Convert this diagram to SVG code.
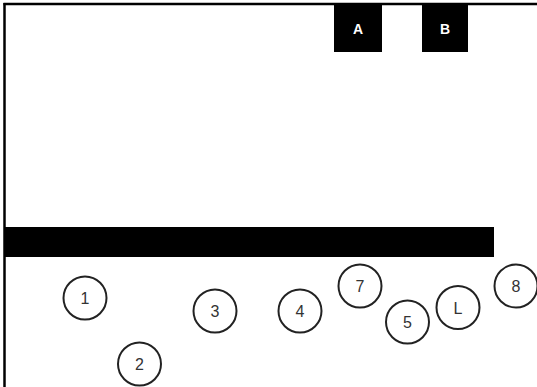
<svg xmlns="http://www.w3.org/2000/svg" width="537" height="387" viewBox="0 0 537 387">
<style>
.c{fill:#fff;stroke:#222;stroke-width:2}
.t{font-family:"Liberation Sans",Arial,sans-serif;font-size:16px;fill:#333;text-anchor:middle}
.b{fill:#000}
.bt{font-family:"Liberation Sans",Arial,sans-serif;font-size:14px;font-weight:bold;fill:#fff;text-anchor:middle}
</style>
<rect width="537" height="387" fill="#fff"/>
<g id="frame">
<line x1="4.5" y1="3" x2="4.5" y2="387" stroke="#000" stroke-width="2.5"/>
<line x1="3.5" y1="4" x2="537" y2="4" stroke="#000" stroke-width="2.5"/>
</g>
<g id="connectors"></g>
<g id="nodeA"><rect class="b" x="334" y="5" width="48" height="47"/><text class="bt" x="358" y="34">A</text></g>
<g id="nodeB"><rect class="b" x="422" y="5" width="46" height="47"/><text class="bt" x="445" y="34">B</text></g>
<g id="bar"><rect class="b" x="5" y="227" width="489" height="30"/></g>
<g id="n1"><circle class="c" cx="85" cy="298" r="21.5"/><text class="t" x="85" y="304">1</text></g>
<g id="n2"><circle class="c" cx="139.5" cy="364" r="21.5"/><text class="t" x="139.5" y="370">2</text></g>
<g id="n3"><circle class="c" cx="215" cy="311" r="21.5"/><text class="t" x="215" y="317">3</text></g>
<g id="n4"><circle class="c" cx="300" cy="311" r="21.5"/><text class="t" x="300" y="317">4</text></g>
<g id="n7"><circle class="c" cx="360" cy="286" r="21.5"/><text class="t" x="360" y="292">7</text></g>
<g id="n5"><circle class="c" cx="407.5" cy="322" r="21.5"/><text class="t" x="407.5" y="328">5</text></g>
<g id="nL"><circle class="c" cx="458" cy="307.5" r="21.5"/><text class="t" x="458" y="313.5">L</text></g>
<g id="n8"><circle class="c" cx="516" cy="286" r="21.5"/><text class="t" x="516" y="292">8</text></g>
</svg>
